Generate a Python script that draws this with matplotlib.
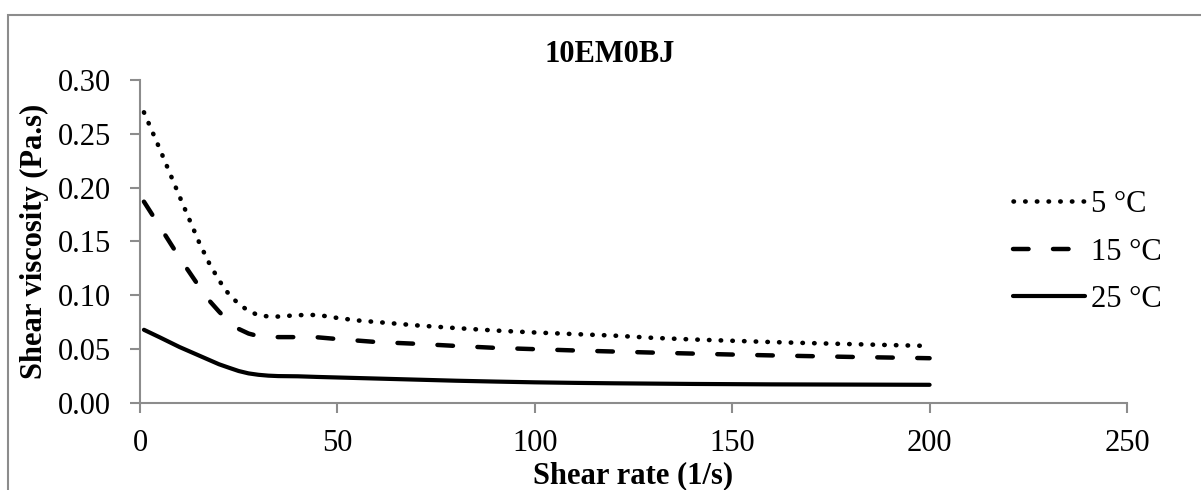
import matplotlib
matplotlib.use("Agg")
import matplotlib.pyplot as plt
from matplotlib.patches import Rectangle

plt.rcParams['font.family'] = ['Liberation Serif', 'DejaVu Serif']

shear_rate = [1, 5, 10, 15, 17.5, 20, 22.5, 25, 27.5, 30, 32.5, 35, 40, 45, 50, 55, 60,
              70, 80, 90, 100, 110, 120, 130, 140, 150, 160, 170, 180, 190, 200]
visc_5C = [0.270, 0.236, 0.192, 0.149, 0.130, 0.114, 0.101, 0.092, 0.0855, 0.0815, 0.0804,
           0.0803, 0.0816, 0.0818, 0.0790, 0.0767, 0.0752, 0.0721, 0.0696, 0.0673,
           0.0655, 0.0640, 0.0626, 0.0605, 0.0590, 0.0578, 0.0566, 0.0556, 0.0547,
           0.0538, 0.0530]
visc_15C = [0.187, 0.164, 0.135, 0.108, 0.0953, 0.085, 0.0755, 0.0688, 0.0645, 0.0621,
            0.0614, 0.0612, 0.0612, 0.0610, 0.0594, 0.0580, 0.0566, 0.0550, 0.0530,
            0.0512, 0.0500, 0.0488, 0.0478, 0.0468, 0.0459, 0.0450, 0.0442, 0.0435,
            0.0428, 0.0422, 0.0416]
visc_25C = [0.068, 0.061, 0.052, 0.044, 0.040, 0.036, 0.0328, 0.0297, 0.0275, 0.0262,
            0.0254, 0.0250, 0.0248, 0.0242, 0.0237, 0.0232, 0.0227, 0.0217, 0.0207,
            0.0199, 0.0192, 0.0187, 0.0183, 0.0180, 0.0177, 0.0175, 0.0173, 0.0172,
            0.0171, 0.0170, 0.0169]
labels = ['5 °C', '15 °C', '25 °C']
title = '10EM0BJ'
xlabel = 'Shear rate (1/s)'
ylabel = 'Shear viscosity (Pa.s)'
xticks = [0, 50, 100, 150, 200, 250]
yticks = [0.00, 0.05, 0.10, 0.15, 0.20, 0.25, 0.30]

W, H = 1201, 490
fig = plt.figure(figsize=(W / 100, H / 100), dpi=100)
ax = fig.add_axes([140 / W, 1 - 403 / H, (1127 - 140) / W, (403 - 80) / H])

fs = 22
ax.plot(shear_rate, visc_5C, color='black', lw=3.3, linestyle=(0, (0.1, 2.45)),
        dash_capstyle='round', solid_joinstyle='round', label=labels[0])
ax.plot(shear_rate, visc_15C, color='black', lw=3.2, linestyle=(0, (3.5, 5.5)),
        dash_capstyle='round', dash_joinstyle='round', label=labels[1])
ax.plot(shear_rate, visc_25C, color='black', lw=3.0, linestyle='-',
        solid_capstyle='round', solid_joinstyle='round', label=labels[2])

ax.set_xlim(0, 250)
ax.set_ylim(0, 0.30)
ax.set_xticks(xticks)
ax.set_yticks(yticks)
ax.set_xticklabels([str(v) for v in xticks], fontsize=fs)
ax.set_yticklabels([f'{v:.2f}' for v in yticks], fontsize=fs)
gray = '#8c8c8c'
for s in ['top', 'right']:
    ax.spines[s].set_visible(False)
for s in ['left', 'bottom']:
    ax.spines[s].set_color(gray)
    ax.spines[s].set_linewidth(1.5)
ax.tick_params(axis='both', direction='out', length=7, width=1.5, color=gray)
ax.tick_params(axis='x', pad=12)
ax.tick_params(axis='y', pad=14)

ax.set_xlabel(xlabel, fontsize=fs, fontweight='bold', labelpad=2)
ax.set_ylabel(ylabel, fontsize=fs, fontweight='bold', labelpad=6)
fig.text(610 / W, 1 - 54 / H, title, fontsize=fs, fontweight='bold',
         ha='center', va='center')

leg = ax.legend(loc='center left', bbox_to_anchor=(1013 / W, 1 - 252 / H),
                bbox_transform=fig.transFigure, frameon=False, fontsize=fs,
                handlelength=2.35, handletextpad=0.2, labelspacing=0.6,
                borderpad=0, borderaxespad=0)

fig.patches.append(Rectangle((8 / W, -0.1), 1.2, 1 - 15 / H + 0.1, fill=False,
                             edgecolor=gray, lw=1.5, transform=fig.transFigure,
                             figure=fig))

fig.savefig('out.png', dpi=100)
